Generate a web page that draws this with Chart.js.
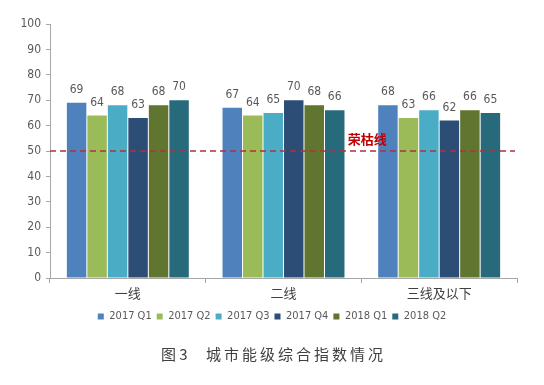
<!DOCTYPE html>
<html><head><meta charset="utf-8">
<script src="https://cdn.jsdelivr.net/npm/chart.js@4/dist/chart.umd.min.js"></script>
<style>html,body{margin:0;padding:0;background:#fff;}#wrap{width:544px;height:385px;position:relative;}</style>
</head><body><div id="wrap"><canvas id="c" width="544" height="385"></canvas></div>
<script>
const categories = ['一线', '二线', '三线及以下'];
const seriesNames = ['2017 Q1', '2017 Q2', '2017 Q3', '2017 Q4', '2018 Q1', '2018 Q2'];
const q1_2017 = [69, 67, 68];
const q2_2017 = [64, 64, 63];
const q3_2017 = [68, 65, 66];
const q4_2017 = [63, 70, 62];
const q1_2018 = [68, 68, 66];
const q2_2018 = [70, 66, 65];
const yTicks = [0, 10, 20, 30, 40, 50, 60, 70, 80, 90, 100];
const thresholdValue = 50;
const thresholdLabel = '荣枯线';
const caption = '图 3\u2003 城\u2009市\u2009能\u2009级\u2009综\u2009合\u2009指\u2009数\u2009情\u2009况';

const colors = ['#4F81BD', '#9BBB59', '#4BACC6', '#2C4D75', '#5F7530', '#276A7C'];
const seriesData = [q1_2017, q2_2017, q3_2017, q4_2017, q1_2018, q2_2018];
const NARROW = "'DejaVu Sans Condensed', 'Liberation Sans Narrow', 'Liberation Sans', sans-serif";

const dataLabelPlugin = {
  id: 'dataLabels',
  afterDatasetsDraw(chart) {
    const ctx = chart.ctx;
    ctx.save();
    ctx.font = "12px " + NARROW;
    ctx.fillStyle = '#595959';
    ctx.textAlign = 'center';
    ctx.textBaseline = 'middle';
    chart.data.datasets.forEach((ds, i) => {
      const meta = chart.getDatasetMeta(i);
      meta.data.forEach((el, j) => {
        ctx.fillText(String(ds.data[j]), el.x, el.y - 13);
      });
    });
    ctx.restore();
  }
};

const thresholdPlugin = {
  id: 'threshold',
  afterDatasetsDraw(chart) {
    const ctx = chart.ctx;
    const ys = chart.scales.y, xs = chart.scales.x;
    const y = ys.getPixelForValue(thresholdValue);
    ctx.save();
    ctx.strokeStyle = '#B2303C';
    ctx.lineWidth = 1.3;
    ctx.setLineDash([6, 4]);
    ctx.beginPath();
    ctx.moveTo(chart.chartArea.left, y);
    ctx.lineTo(chart.chartArea.right - 2, y);
    ctx.stroke();
    ctx.setLineDash([]);
    ctx.font = "bold 13px 'Noto Sans CJK SC', sans-serif";
    ctx.fillStyle = '#C00000';
    ctx.textAlign = 'center';
    ctx.textBaseline = 'middle';
    const xMid = (xs.getPixelForValue(1) + xs.getPixelForValue(2)) / 2;
    ctx.fillText(thresholdLabel, xMid + 6, y - 12);
    ctx.restore();
  }
};

new Chart(document.getElementById('c'), {
  type: 'bar',
  data: {
    labels: categories,
    datasets: seriesNames.map((n, i) => ({
      label: n,
      data: seriesData[i],
      backgroundColor: colors[i],
      borderWidth: 0,
      barPercentage: 0.95,
      categoryPercentage: 0.79
    }))
  },
  options: {
    responsive: false,
    animation: false,
    devicePixelRatio: 1,
    layout: { padding: { left: 0, right: 0, top: 24, bottom: 22 } },
    plugins: {
      legend: {
        position: 'bottom',
        labels: {
          boxWidth: 6, boxHeight: 6, padding: 5,
          color: '#595959',
          font: { size: 11, family: NARROW }
        }
      },
      title: {
        display: true,
        position: 'bottom',
        text: caption,
        color: '#404040',
        font: { size: 15, weight: 'normal', family: "'Noto Sans CJK SC', serif" },
        padding: { top: 13, bottom: 0 }
      },
      tooltip: { enabled: false }
    },
    scales: {
      x: {
        grid: { display: true, drawOnChartArea: false, offset: true, tickLength: 5, color: '#A6A6A6' },
        border: { color: '#A6A6A6', width: 1 },
        ticks: { color: '#404040', font: { size: 13, family: "'Noto Sans CJK SC', sans-serif" }, padding: 2 },
        afterFit(scale) { scale.height = 28; }
      },
      y: {
        min: 0, max: 100,
        afterBuildTicks(scale) { scale.ticks = yTicks.map(v => ({ value: v })); },
        grid: { display: true, drawOnChartArea: false, tickLength: 4, color: '#A6A6A6' },
        border: { color: '#A6A6A6', width: 1 },
        ticks: { color: '#595959', font: { size: 12, family: NARROW }, padding: 5 },
        afterFit(scale) { scale.width = 50; }
      },
      yRight: {
        position: 'right',
        display: true,
        grid: { display: false },
        border: { display: false },
        ticks: { display: false },
        afterFit(scale) { scale.width = 27; }
      }
    }
  },
  plugins: [dataLabelPlugin, thresholdPlugin]
});
</script>
</body></html>
